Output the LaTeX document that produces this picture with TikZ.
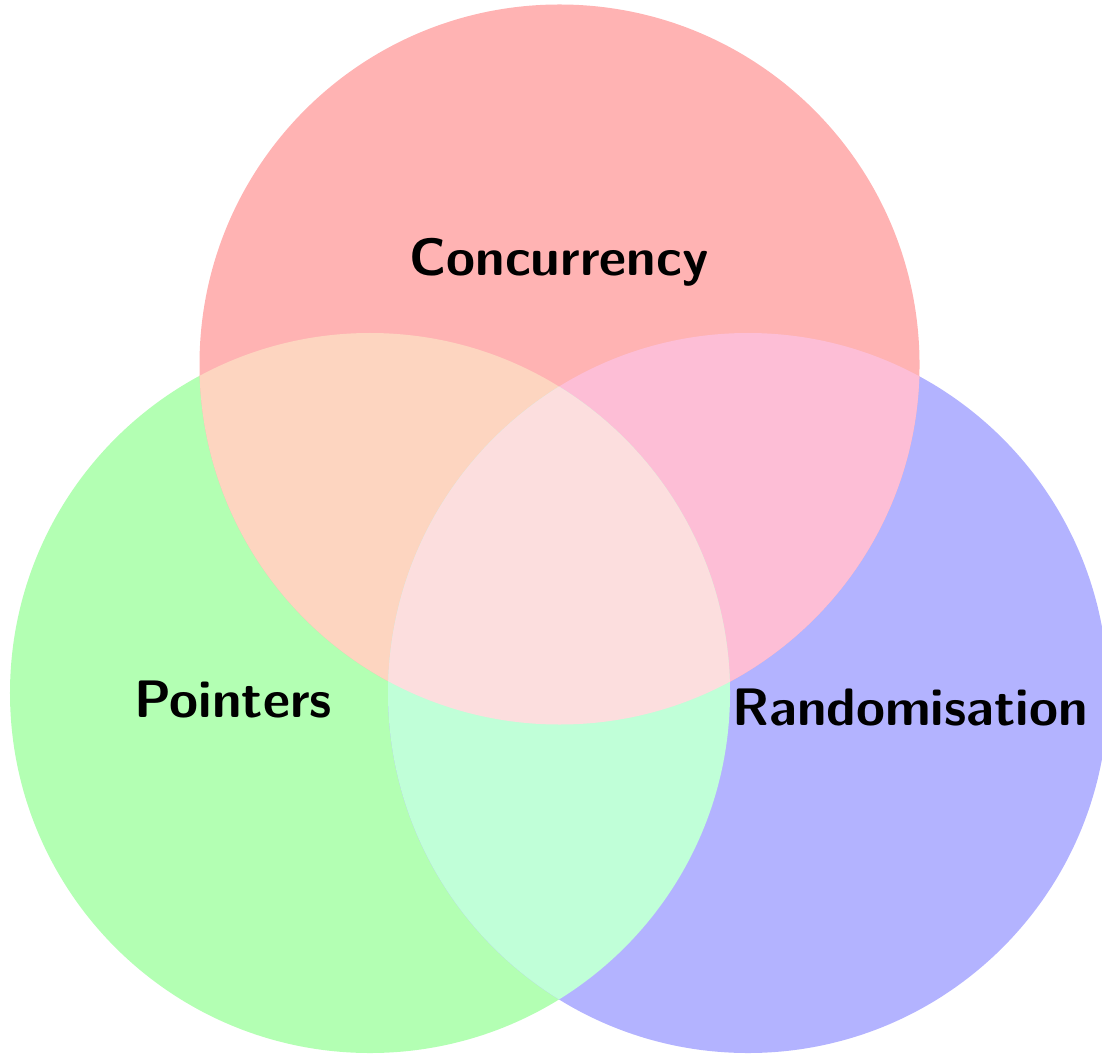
\documentclass[tikz,border=0pt]{standalone}
\usepackage{tikz}
\definecolor{cRed}{RGB}{255,179,179}
\definecolor{cGreen}{RGB}{179,255,179}
\definecolor{cBlue}{RGB}{179,179,255}
\definecolor{cRG}{RGB}{253,213,192}
\definecolor{cRB}{RGB}{253,190,214}
\definecolor{cGB}{RGB}{192,255,216}
\definecolor{cRGB}{RGB}{252,222,222}
\tikzset{lbl/.style={font=\sffamily\bfseries\fontsize{12.5}{15}\selectfont, anchor=base, inner sep=0pt}}
\begin{document}
\begin{tikzpicture}
\useasboundingbox (0,0) rectangle (9.1833,8.775);
\def\R{3}
\coordinate (cr) at (4.6625,5.7375);
\coordinate (cg) at (3.0833,3.0);
\coordinate (cb) at (6.2333,3.0);
\fill[cGreen] (cg) circle (\R);
\fill[cBlue] (cb) circle (\R);
\fill[cRed] (cr) circle (\R);
\begin{scope}
  \clip (cr) circle (\R);
  \fill[cRG] (cg) circle (\R);
  \fill[cRB] (cb) circle (\R);
\end{scope}
\begin{scope}
  \clip (cg) circle (\R);
  \fill[cGB] (cb) circle (\R);
  \clip (cb) circle (\R);
  \fill[cRGB] (cr) circle (\R);
\end{scope}
\node[lbl] (conc) at (4.658,6.483) {Concurrency};
\node[lbl] (ptr) at (1.942,2.8) {Pointers};
\node[lbl] (rnd) at (7.583,2.733) {Randomisation};
\end{tikzpicture}
\end{document}
